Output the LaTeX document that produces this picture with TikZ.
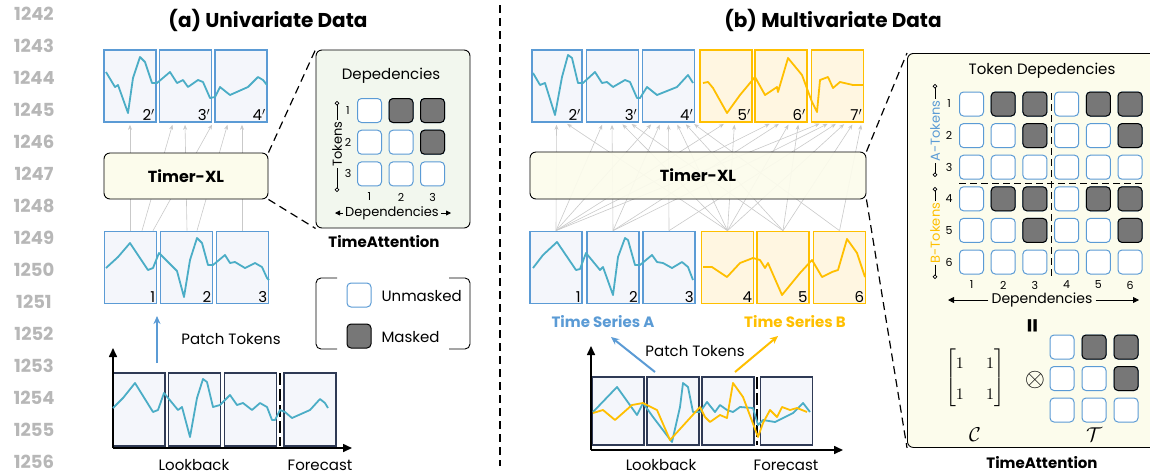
\documentclass[tikz,border=0pt]{standalone}
\usepackage{amsmath,amssymb}
\usepackage{fontspec}
\setmainfont{Poppins}
\usetikzlibrary{positioning,arrows.meta,calc}
\definecolor{tBlue}{HTML}{5B9BD5}
\definecolor{tYellow}{HTML}{FFBF00}
\definecolor{tTeal}{HTML}{4BADC6}
\definecolor{tNavy}{HTML}{2F3A55}
\definecolor{tPatch}{HTML}{F4F6FB}
\definecolor{tPatchY}{HTML}{FFF6E1}
\definecolor{tModel}{HTML}{FCFCEC}
\definecolor{tDepBg}{HTML}{F2F7EE}
\definecolor{tMask}{HTML}{777777}
\definecolor{tLineNo}{HTML}{B7B7B7}
\definecolor{tArrow}{HTML}{C9C9C9}

\begin{document}
\begin{tikzpicture}[x=1pt, y=-1pt,
  lineno/.style={text=tLineNo, font=\fontsize{18}{20}\selectfont\bfseries},
  heading/.style={font=\fontsize{20}{24}\selectfont\bfseries},
  patchA/.style={draw=tBlue, fill=tPatch, line width=1.7pt, minimum width=52pt, minimum height=72pt, inner sep=0pt},
  patchB/.style={patchA, draw=tYellow, fill=tPatchY},
  patchC/.style={patchA, draw=tNavy},
  plabel/.style={font=\fontsize{15}{16}\selectfont, inner sep=2pt, anchor=south east},
  model/.style={draw=black, fill=tModel, rounded corners=6pt, line width=0.9pt, font=\fontsize{16}{18}\selectfont\bfseries},
  cellU/.style={draw=tBlue, fill=white, rounded corners=4pt, minimum size=24pt, inner sep=0pt, line width=1pt},
  cellM/.style={cellU, draw=black, fill=tMask},
  attn/.style={draw=tArrow, line width=0.6pt, -{Stealth[length=5pt,width=4pt]}, shorten >=2pt},
  serA/.style={tTeal, line width=1.8pt, line join=round},
  serB/.style={tYellow, line width=1.8pt, line join=round},
  zoomline/.style={line width=1.2pt, dash pattern=on 8pt off 5pt},
  small/.style={font=\fontsize{11}{12}\selectfont},
  txt/.style={font=\fontsize{15}{17}\selectfont},
]
\useasboundingbox (0,0) rectangle (1150,475);

% line numbers
\foreach \i in {0,...,14} {
  \pgfmathtruncatemacro{\ln}{1242+\i}
  \node[lineno] (ln\i) at (34,13.5+32*\i) {\ln};
}

% headings and divider
\node[heading] (aHead) at (268,20) {(a) Univariate Data};
\node[heading] (bHead) at (833,20) {(b) Multivariate Data};
\draw[line width=1.5pt, dash pattern=on 8pt off 5pt] (500,5) -- (500,466);

%% ---------------- (a) univariate ----------------
% output patches
\node[patchA, label={[plabel]south east:2$'$}] (aO2) at (130,86) {};
\node[patchA, label={[plabel]south east:3$'$}] (aO3) at (185.5,86) {};
\node[patchA, label={[plabel]south east:4$'$}] (aO4) at (241,86) {};
% input patches
\node[patchA, label={[plabel]south east:1}] (aI1) at (130.5,267.5) {};
\node[patchA, label={[plabel]south east:2}] (aI2) at (186.5,267.5) {};
\node[patchA, label={[plabel]south east:3}] (aI3) at (242.5,267.5) {};
% causal connections
\draw[attn] ([xshift=-0.5]aI1.north) -- ([xshift=0]aO2.south);
\draw[attn] ([xshift=11.5]aI1.north) -- ([xshift=-12.5]aO3.south);
\draw[attn] ([xshift=22.5]aI1.north) -- ([xshift=-28]aO4.south);
\draw[attn] ([xshift=0.5]aI2.north) -- ([xshift=-0.5]aO3.south);
\draw[attn] ([xshift=10.5]aI2.north) -- ([xshift=-13]aO4.south);
\draw[attn] ([xshift=-0.5]aI3.north) -- ([xshift=1]aO4.south);
\node[model, minimum width=164pt, minimum height=46pt] (aModel) at (186,176) {Timer-XL};
% series
\draw[serA] plot coordinates {(106,72) (115,87) (118,85) (128,113) (133,78) (140,57) (145,62) (152,83) (157,83) (170,72) (177,83) (183,80) (188,87) (198,80) (203,82) (210,98) (215,97) (220,87) (230,95) (248,87) (258,77) (263,80) (267,85)};
\draw[serA] plot coordinates {(106,268) (118,257) (130,243) (148,270) (153,268) (159,253) (173,267) (177,271) (184,297) (190,260) (197,238) (202,243) (208,265) (213,265) (225,255) (230,263) (235,262) (245,268) (255,263) (262,267) (267,278) (269,280)};

% dependencies panel
\node[draw=black, fill=tDepBg, rounded corners=6pt, line width=0.9pt, minimum width=154pt, minimum height=178pt] (aDep) at (393,139) {};
\draw[zoomline] (aModel.north east) -- (aDep.north west);
\draw[zoomline] (aModel.south east) -- (aDep.south west);
\node[font=\fontsize{15}{17}\selectfont] (aDepTitle) at (391,76) {Depedencies};
\foreach \r in {1,2,3}
  \foreach \c in {1,2,3}
    \node[cellU] (ad\r\c) at (369.5+31.5*\c-31.5,110.5+31.7*\r-31.7) {};
\foreach \r/\c in {1/2,1/3,2/3}
  \node[cellM] (am\r\c) at (ad\r\c) {};
\foreach \r in {1,2,3} {
  \node[small] (aRow\r) at (348,110.5+31.7*\r-31.7) {\r};
  \node[small] (aCol\r) at (369.5+31.5*\r-31.5,197) {\r};
}
\node[font=\fontsize{13}{14}\selectfont, rotate=90, fill=tDepBg, inner sep=1.5pt] (aTok) at (337,144) {Tokens};
\coordinate (aTokT) at (337,101);
\coordinate (aTokB) at (337,192);
\draw[line width=0.8pt, -{Circle[open,length=4.5pt,fill=white]}] (aTok.east) -- (aTokT);
\draw[line width=0.8pt, -{Circle[open,length=4.5pt,fill=white]}] (aTok.west) -- (aTokB);
\node[font=\fontsize{13}{14}\selectfont, inner sep=2pt] (aDepLbl) at (392,213) {Dependencies};
\coordinate (aDepL) at (335,213);
\coordinate (aDepR) at (451,213);
\draw[line width=0.8pt, -{Triangle[length=5pt,width=5pt]}] (aDepLbl.west) -- (aDepL);
\draw[line width=0.8pt, -{Triangle[length=5pt,width=5pt]}] (aDepLbl.east) -- (aDepR);
\node[font=\fontsize{15}{17}\selectfont\bfseries] (aAttn) at (384,242) {TimeAttention};

% legend
\draw[line width=0.9pt, rounded corners=5pt] (337,278) -- (316,278) -- (316,349) -- (337,349);
\draw[line width=0.9pt, rounded corners=5pt] (449,278) -- (470,278) -- (470,349) -- (449,349);
\node[cellU] (legU) at (359,295) {};
\node[cellM] (legM) at (359,336) {};
\node[txt, anchor=west] (legUT) at (378,296) {Unmasked};
\node[txt, anchor=west] (legMT) at (378,337) {Masked};

% patch tokens arrow
\coordinate (aArrS) at (157,363);
\coordinate (aArrE) at (157,316);
\draw[tBlue, line width=2pt, -{Stealth[length=8pt,width=7pt]}] (aArrS) -- (aArrE);
\node[txt] (aPT) at (231,339) {Patch Tokens};

% bottom chart
\coordinate (aOrig) at (113,448);
\coordinate (aYEnd) at (113,348);
\coordinate (aXEnd) at (352,448);
\node[patchC, minimum height=73pt] (aC1) at (139,409.5) {};
\node[patchC, minimum height=73pt] (aC2) at (194.5,409.5) {};
\node[patchC, minimum height=73pt] (aC3) at (250.5,409.5) {};
\node[patchC, minimum height=73pt] (aC4) at (310,409.5) {};
\draw[line width=1.6pt, -{Triangle[length=9pt,width=8pt]}] (aOrig) -- (aYEnd);
\draw[line width=1.6pt, -{Triangle[length=9pt,width=8pt]}] (aOrig) -- (aXEnd);
\draw[line width=1.4pt, dash pattern=on 12pt off 4pt] (280,373) -- (280,446);
\draw[serA] plot coordinates {(113,408) (123,398) (135,383) (153,412) (158,410) (164,393) (178,410) (182,407) (190,437) (197,398) (203,379) (207,382) (213,407) (220,405) (230,395) (237,405) (243,403) (252,410) (260,403) (267,407) (272,420) (275,420) (280,410) (285,412) (292,418) (310,410) (320,399) (325,403) (328,408)};
\node[txt] (aLook) at (194,465) {Lookback};
\node[txt] (aFore) at (320,465) {Forecast};

%% ---------------- (b) multivariate ----------------
% output patches
\node[patchA, minimum width=50pt, label={[plabel]south east:2$'$}] (bO2) at (557,86) {};
\node[patchA, label={[plabel]south east:3$'$}] (bO3) at (612.5,86) {};
\node[patchA, label={[plabel]south east:4$'$}] (bO4) at (668.5,86) {};
\node[patchB, label={[plabel]south east:5$'$}] (bO5) at (726,86) {};
\node[patchB, label={[plabel]south east:6$'$}] (bO6) at (781,86) {};
\node[patchB, label={[plabel]south east:7$'$}] (bO7) at (837.5,86) {};
% input patches
\node[patchA, label={[plabel]south east:1}] (bI1) at (556,267.5) {};
\node[patchA, label={[plabel]south east:2}] (bI2) at (613,267.5) {};
\node[patchA, label={[plabel]south east:3}] (bI3) at (669,267.5) {};
\node[patchB, label={[plabel]south east:4}] (bI4) at (727.5,267.5) {};
\node[patchB, label={[plabel]south east:5}] (bI5) at (783,267.5) {};
\node[patchB, label={[plabel]south east:6}] (bI6) at (839.5,267.5) {};
% token connections
\foreach \k [count=\m] in {1,4}
  \draw[attn] (bI\k.north) -- ([xshift={4+(\m-1.5)*9}]bO2.south);
\foreach \k [count=\m] in {1,2,4,5}
  \draw[attn] (bI\k.north) -- ([xshift={4+(\m-2.5)*9}]bO3.south);
\foreach \k [count=\m] in {1,...,6}
  \draw[attn] (bI\k.north) -- ([xshift={4+(\m-3.5)*8}]bO4.south);
\foreach \k [count=\m] in {1,4}
  \draw[attn] (bI\k.north) -- ([xshift={4+(\m-1.5)*9}]bO5.south);
\foreach \k [count=\m] in {1,2,4,5}
  \draw[attn] (bI\k.north) -- ([xshift={4+(\m-2.5)*9}]bO6.south);
\foreach \k [count=\m] in {1,...,6}
  \draw[attn] (bI\k.north) -- ([xshift={4+(\m-3.5)*8}]bO7.south);
\node[model, fill opacity=0.92, text opacity=1, minimum width=336pt, minimum height=47pt] (bModel) at (698,175.5) {Timer-XL};
% series
\draw[serA] plot coordinates {(533,73) (540,85) (545,83) (555,115) (562,77) (568,55) (572,58) (578,83) (583,83) (595,72) (602,83) (607,82) (613,87) (625,80) (630,82) (637,98) (640,98) (647,87) (657,95) (677,87) (688,75) (693,83)};
\draw[serB] plot coordinates {(703,83) (708,82) (713,88) (727,113) (740,95) (755,77) (765,95) (777,87) (778,92) (788,58) (802,75) (812,102) (817,112) (820,80) (828,77) (833,88) (840,82) (853,85) (863,85)};
\draw[serA] plot coordinates {(533,268) (543,255) (557,242) (576,270) (580,269) (586,253) (600,270) (603,267) (613,295) (618,257) (625,238) (628,240) (635,265) (640,265) (652,255) (657,262) (663,263) (672,268) (682,262) (688,267) (693,280)};
\draw[serB] plot coordinates {(703,267) (712,267) (727,277) (740,263) (753,258) (760,260) (765,268) (768,263) (782,295) (800,273) (812,260) (822,277) (832,272) (838,270) (847,239) (857,253) (865,277)};
\node[font=\fontsize{15}{17}\selectfont\bfseries, text=tBlue] (bTsA) at (603,322) {Time Series A};
\node[font=\fontsize{15}{17}\selectfont\bfseries, text=tYellow] (bTsB) at (795,322) {Time Series B};

% patch tokens arrows
\coordinate (bArrS1) at (655,372);
\coordinate (bArrE1) at (611,337);
\coordinate (bArrS2) at (735,372);
\coordinate (bArrE2) at (778,336);
\draw[tBlue, line width=2pt, -{Stealth[length=8pt,width=7pt]}] (bArrS1) -- (bArrE1);
\draw[tYellow, line width=2pt, -{Stealth[length=8pt,width=7pt]}] (bArrS2) -- (bArrE2);
\node[txt] (bPT) at (695,351) {Patch Tokens};

% bottom chart
\coordinate (bOrig) at (591,450);
\coordinate (bYEnd) at (591,346);
\coordinate (bXEnd) at (843,450);
\node[patchC, minimum height=68pt] (bC1) at (618,411) {};
\node[patchC, minimum height=68pt] (bC2) at (673,411) {};
\node[patchC, minimum height=68pt] (bC3) at (728,411) {};
\node[patchC, minimum height=68pt] (bC4) at (786.5,411) {};
\draw[line width=1.6pt, -{Triangle[length=9pt,width=8pt]}] (bOrig) -- (bYEnd);
\draw[line width=1.6pt, -{Triangle[length=9pt,width=8pt]}] (bOrig) -- (bXEnd);
\draw[line width=1.4pt, dash pattern=on 12pt off 4pt] (757,377) -- (757,445);
\draw[serA] plot coordinates {(593,412) (617,387) (637,415) (643,403) (653,417) (672,442) (680,407) (683,383) (688,387) (693,412) (700,412) (707,402) (715,412) (720,405) (727,410) (733,412) (740,407) (753,408) (758,425) (763,420) (775,422) (793,413) (803,403) (810,412)};
\draw[serB] plot coordinates {(593,413) (603,410) (615,420) (632,405) (643,403) (657,410) (670,440) (700,407) (705,417) (710,422) (720,415) (727,418) (733,383) (743,397) (758,437) (763,423) (770,410) (777,417) (782,407) (790,410) (797,408) (807,412)};
\node[txt] (bLook) at (661,465) {Lookback};
\node[txt] (bFore) at (786,465) {Forecast};

% token dependencies panel
\node[draw=black, fill=tModel, rounded corners=6pt, line width=0.9pt, minimum width=260pt, minimum height=394pt, anchor=north west] (bDep) at (907,53) {};
\draw[zoomline] (bModel.north east) -- (bDep.north west);
\draw[zoomline] (bModel.south east) -- (bDep.south west);
\node[font=\fontsize{15}{17}\selectfont] (bDepTitle) at (1042,71) {Token Depedencies};
\foreach \r in {1,...,6}
  \foreach \c in {1,...,6}
    \node[cellU] (bd\r\c) at (971.5+31.7*\c-31.7,104+31.6*\r-31.6) {};
\foreach \r/\c in {1/2,1/3,1/5,1/6,2/3,2/6,4/2,4/3,4/5,4/6,5/3,5/6}
  \node[cellM] (bm\r\c) at (bd\r\c) {};
\foreach \r in {1,...,6} {
  \node[small] (bRow\r) at (949,104+31.6*\r-31.6) {\r};
  \node[small] (bCol\r) at (971.5+31.7*\r-31.7,285) {\r};
}
\draw[line width=1pt, dash pattern=on 7pt off 4pt] (959,183) -- (1143,183);
\draw[line width=1pt, dash pattern=on 7pt off 4pt] (1051,93) -- (1051,277);
\node[font=\fontsize{13}{14}\selectfont, rotate=90, text=tBlue, fill=tModel, inner sep=1.5pt] (bTokA) at (935,131) {A-Tokens};
\coordinate (bTokAT) at (935,84);
\coordinate (bTokAB) at (935,177);
\draw[line width=0.8pt, -{Circle[open,length=4.5pt,fill=white]}] (bTokA.east) -- (bTokAT);
\draw[line width=0.8pt, -{Circle[open,length=4.5pt,fill=white]}] (bTokA.west) -- (bTokAB);
\node[font=\fontsize{13}{14}\selectfont, rotate=90, text=tYellow, fill=tModel, inner sep=1.5pt] (bTokB) at (935,233) {B-Tokens};
\coordinate (bTokBT) at (935,187);
\coordinate (bTokBB) at (935,279);
\draw[line width=0.8pt, -{Circle[open,length=4.5pt,fill=white]}] (bTokB.east) -- (bTokBT);
\draw[line width=0.8pt, -{Circle[open,length=4.5pt,fill=white]}] (bTokB.west) -- (bTokBB);
\node[font=\fontsize{14}{15}\selectfont, inner sep=3pt] (bDepLbl) at (1042,300) {Dependencies};
\coordinate (bDepL) at (948,300);
\coordinate (bDepR) at (1139,300);
\draw[line width=0.8pt, -{Triangle[length=6pt,width=6pt]}] (bDepLbl.west) -- (bDepL);
\draw[line width=0.8pt, -{Triangle[length=6pt,width=6pt]}] (bDepLbl.east) -- (bDepR);
\node[rotate=90, font=\fontsize{22}{22}\selectfont\bfseries] (bEq) at (1034,326) {=};
% kronecker factors
\node (bCmat) at (975,378) {\scalebox{1.6}{$\renewcommand{\arraystretch}{1.6}\setlength{\arraycolsep}{7pt}\begin{bmatrix}1&1\\1&1\end{bmatrix}$}};
\node (bOtimes) at (1035,380) {\scalebox{2.6}{$\otimes$}};
\foreach \r in {1,2,3}
  \foreach \c in {1,2,3}
    \node[cellU] (bt\r\c) at (1062+32*\c-32,347+31.5*\r-31.5) {};
\foreach \r/\c in {1/2,1/3,2/3}
  \node[cellM] (btm\r\c) at (bt\r\c) {};
\node (bCcal) at (975,435) {\scalebox{2}{$\mathcal{C}$}};
\node (bTcal) at (1094,435) {\scalebox{2}{$\mathcal{T}$}};
\node[font=\fontsize{15}{17}\selectfont\bfseries] (bAttn) at (1042,463) {TimeAttention};
\end{tikzpicture}
\end{document}
